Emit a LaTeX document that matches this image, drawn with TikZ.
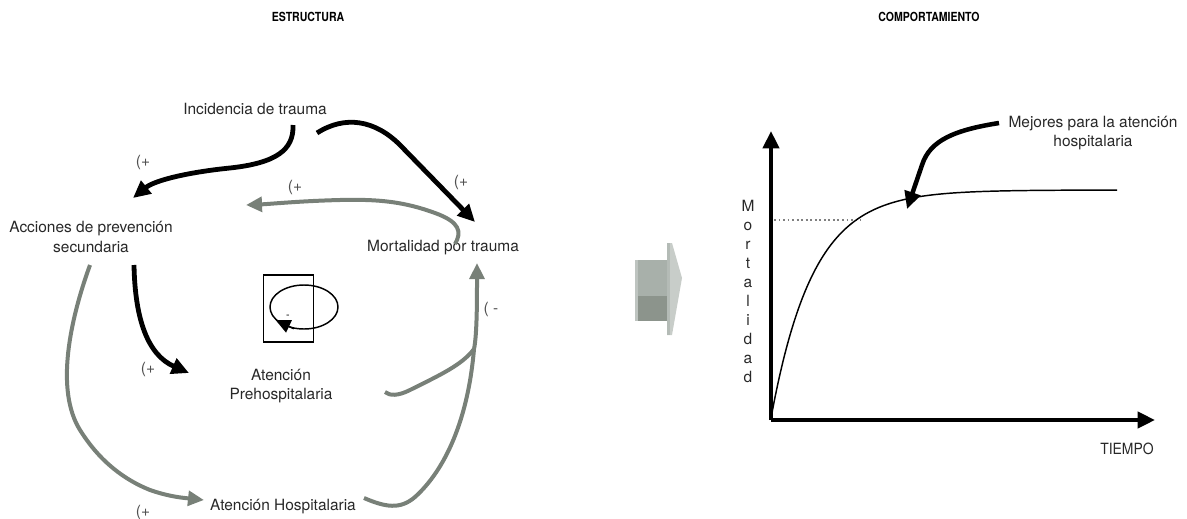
\documentclass[tikz,border=0pt]{standalone}
\usepackage{fontspec}
\usepackage{graphicx}
\setmainfont{TeX Gyre Heros}
\usetikzlibrary{arrows.meta,shapes.geometric}
\definecolor{garr}{RGB}{120,128,120}
\definecolor{txt}{RGB}{40,40,40}
\definecolor{lbl}{RGB}{80,80,80}
\begin{document}
\begin{tikzpicture}[x=0.75pt,y=-0.75pt,
  lab/.style={font=\fontsize{11.6}{14.6}\selectfont,text=txt,align=center,inner sep=1pt},
  sgn/.style={font=\fontsize{11.6}{12}\selectfont,text=lbl,inner sep=0pt},
  ttl/.style={font=\fontsize{9.4}{10}\selectfont\bfseries,text=black,inner sep=0pt},
  blk/.style={line width=3.6pt,draw=black,-{Triangle[length=13pt,width=12pt]}},
  gry/.style={line width=3pt,draw=garr,-{Triangle[length=12pt,width=11pt]}},
  gryl/.style={line width=3pt,draw=garr},
  axis/.style={line width=3pt,draw=black,-{Triangle[length=13pt,width=12pt]}}]
\useasboundingbox (0,0) rectangle (1187,518);
% titles
\node[ttl] (t1) at (308,17) {\scalebox{0.84}[1]{ESTRUCTURA}};
\node[ttl] (t2) at (929,17) {\scalebox{0.84}[1]{COMPORTAMIENTO}};
% nodes
\node[lab] (inc) at (255,109) {Incidencia de trauma};
\node[lab] (acc) at (91,237) {Acciones de prevención\\secundaria};
\node[lab] (mort) at (443,248) {Mortalidad por trauma};
\node[lab] (aph) at (281,386) {Atención\\Prehospitalaria};
\node[lab] (ah) at (283,507) {Atención Hospitalaria};
% signs
\node[sgn] (s1) at (143,162) {(+};
\node[sgn] (s2) at (295,187) {(+};
\node[sgn] (s3) at (461,182) {(+};
\node[sgn] (s4) at (148,369) {(+};
\node[sgn] (s5) at (143,512) {(+};
\node[sgn] (s6) at (491,309) {( -};
% connector endpoints
\coordinate (a1s) at (293,125);
\coordinate (a1e) at (133,198);
\coordinate (a2s) at (317,133);
\coordinate (a2e) at (475,222);
\coordinate (a3s) at (455,244);
\coordinate (a3e) at (246,205);
\coordinate (a4s) at (134,265);
\coordinate (a4e) at (189,373);
\coordinate (a5s) at (90,265);
\coordinate (a5e) at (204,500);
\coordinate (a6s) at (385,392);
\coordinate (jn) at (474,349);
\coordinate (a6e) at (477,263);
\coordinate (a7s) at (364,498);
% arrows
\draw[blk] (a1s) .. controls (294,150) and (276,163) .. (230,168) .. controls (190,172) and (155,180) .. (a1e);
\draw[blk] (a2s) .. controls (345,115) and (375,120) .. (400,145) -- (a2e);
\draw[gry] (a3s) .. controls (462,232) and (460,222) .. (435,213) .. controls (405,202) and (380,199) .. (340,200) .. controls (300,201) and (270,204) .. (a3e);
\draw[blk] (a4s) .. controls (135,320) and (148,355) .. (a4e);
\draw[gry] (a5s) .. controls (70,320) and (55,390) .. (80,430) .. controls (100,462) and (125,480) .. (150,490) .. controls (170,497) and (185,498) .. (a5e);
\draw[gry] (a6s) .. controls (390,396) and (398,396) .. (410,390) .. controls (440,375) and (462,365) .. (jn) .. controls (477,335) and (477,300) .. (a6e);
\draw[gryl] (a7s) .. controls (385,507) and (400,510) .. (415,497) .. controls (445,470) and (468,420) .. (jn);
% loop icon
\node[draw=black,line width=1.1pt,minimum width=37.5pt,minimum height=50pt,inner sep=0pt] (box) at (288.5,308.5) {};
\node[draw=black,line width=1.1pt,ellipse,minimum width=51pt,minimum height=33pt,inner sep=0pt] (loop) at (304,307) {};
\draw[line width=1.1pt,-{Triangle[length=11pt,width=10pt]}] (loop.245) -- (loop.205);
\node[font=\fontsize{8}{8}\selectfont,inner sep=0pt] (minus) at (288,317) {-};
% block arrow
\fill[fill={rgb,255:red,168;green,176;blue,170}] (635,260) rectangle (670,296);
\fill[fill={rgb,255:red,140;green,148;blue,140}] (635,296) rectangle (670,321);
\fill[fill={rgb,255:red,190;green,196;blue,192}] (635,260) rectangle (638,321);
\fill[fill={rgb,255:red,200;green,205;blue,201}] (667,243) -- (672,243) -- (682,278) -- (672,335) -- (667,335) -- cycle;
\fill[fill={rgb,255:red,180;green,187;blue,182}] (667,243) -- (670,243) -- (670,335) -- (667,335) -- cycle;
% graph
\coordinate (o) at (771,420);
\coordinate (ytop) at (771,131);
\coordinate (xend) at (1155,420);
\draw[axis] (o) -- (ytop);
\draw[axis] (o) -- (xend);
\node[lab,font=\fontsize{11.6}{14.25}\selectfont] (ylab) at (748,291) {M\\o\\r\\t\\a\\l\\i\\d\\a\\d};
\node[font=\fontsize{11.6}{12}\selectfont,text=txt,inner sep=0pt] (time) at (1127,449) {\scalebox{0.9}[1]{TIEMPO}};
\draw[gray,line width=1.4pt,dotted] (774,220) -- (861,220);
\draw[line width=1.1pt] plot[domain=0:346,samples=90,smooth] ({771+\x},{418-228*(1-exp(-\x/42))});
\node[lab] (mej) at (1093,133) {Mejores para la atención\\hospitalaria};
\coordinate (a8s) at (999,123);
\coordinate (a8e) at (907,209);
\draw[line width=3.4pt,-{Triangle[length=13pt,width=12pt]}] (a8s) .. controls (955,130) and (930,140) .. (922,165) -- (a8e);
\end{tikzpicture}
\end{document}
